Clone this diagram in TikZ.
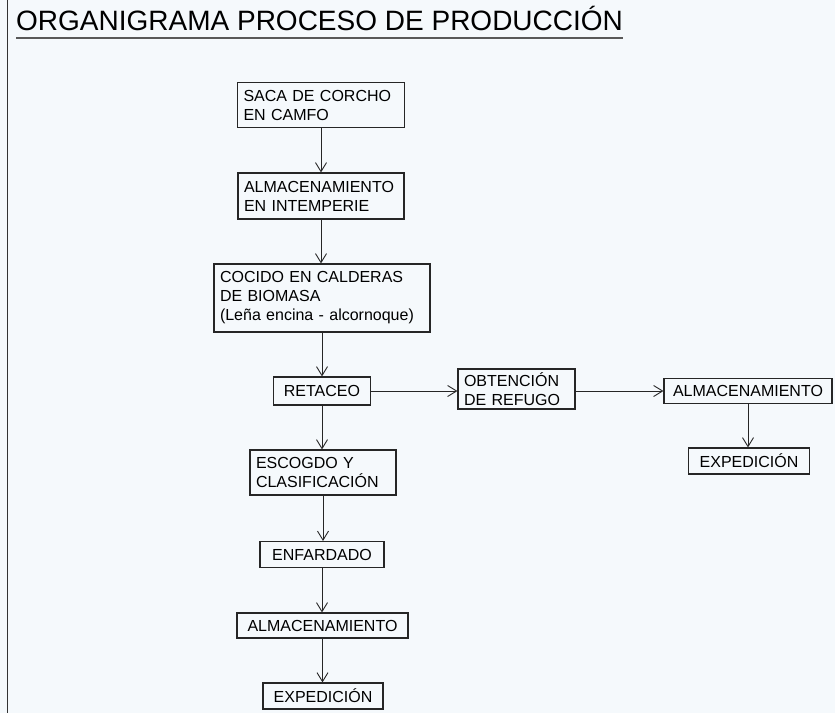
\documentclass[tikz,border=0pt]{standalone}
\usepackage{fontspec}
\setmainfont{Liberation Sans}
\usetikzlibrary{arrows.meta}
\definecolor{fondo}{HTML}{F5F9FC}

\begin{document}
\begin{tikzpicture}[x=1pt,y=-1pt]
  \tikzstyle{caja}=[draw=black!85, line width=1.1pt, rectangle, align=center, inner sep=0pt,
    font=\fontsize{16}{19}\selectfont]
  \tikzstyle{cajaizq}=[caja, align=left, inner xsep=6pt]
  \tikzstyle{flecha}=[line width=0.9pt, black!85, -{Straight Barb[length=9pt,width=11pt]}]

  \useasboundingbox (0,0) rectangle (835,713);
  \fill[fondo] (0,0) rectangle (835,713);
  \draw[line width=1.5pt, black!80] (7.5,0) -- (7.5,713);

  \node[anchor=base west, inner sep=0pt, font=\fontsize{28}{30}\selectfont] (titulo) at (16,30)
    {ORGANIGRAMA PROCESO DE PRODUCCIÓN};
  \draw[line width=2pt, black!65] ([yshift=-8pt]titulo.base west) -- ([yshift=-8pt]titulo.base east);

  \node[cajaizq, text width=155, minimum height=45] (Saca) at (321, 105) {SACA DE CORCHO\\EN CAMFO};

  \node[cajaizq, text width=154, minimum height=46] (Intemperie) at (321, 196) {ALMACENAMIENTO\\EN INTEMPERIE};

  \node[cajaizq, text width=204, minimum height=68] (Cocido) at (322, 298) {COCIDO EN CALDERAS\\DE BIOMASA\\(Leña encina - alcornoque)};

  \node[caja, minimum width=97, minimum height=28] (Retaceo) at (322, 391) {RETACEO};

  \node[cajaizq, text width=105, minimum height=40] (Refugo) at (516.5, 389) {OBTENCIÓN\\DE REFUGO};

  \node[caja, minimum width=168, minimum height=25] (AlmacDer) at (748, 391) {ALMACENAMIENTO};

  \node[caja, minimum width=121, minimum height=26] (ExpedDer) at (749, 461) {EXPEDICIÓN};

  \node[cajaizq, text width=134, minimum height=45] (Escogido) at (323, 472.5) {ESCOGDO Y\\CLASIFICACIÓN};

  \node[caja, minimum width=124, minimum height=26] (Enfardado) at (322, 554.5) {ENFARDADO};

  \node[caja, minimum width=171, minimum height=25] (Almacen) at (322.5, 625.5) {ALMACENAMIENTO};

  \node[caja, minimum width=120, minimum height=26] (Expedicion) at (323, 696) {EXPEDICIÓN};

  \draw[flecha] (Saca) -- (Saca |- Intemperie.north);
  \draw[flecha] (Intemperie) -- (Intemperie |- Cocido.north);
  \draw[flecha] (Cocido) -- (Retaceo);
  \draw[flecha] (Retaceo) -- (Retaceo |- Escogido.north);
  \draw[flecha] (Escogido) -- (Escogido |- Enfardado.north);
  \draw[flecha] (Enfardado) -- (Enfardado |- Almacen.north);
  \draw[flecha] (Almacen) -- (Almacen |- Expedicion.north);

  \draw[flecha] (Retaceo.east) -- (Refugo.west |- Retaceo.east);
  \draw[flecha] (Refugo.east |- AlmacDer.west) -- (AlmacDer.west);
  \draw[flecha] (AlmacDer) -- (AlmacDer |- ExpedDer.north);

\end{tikzpicture}
\end{document}
